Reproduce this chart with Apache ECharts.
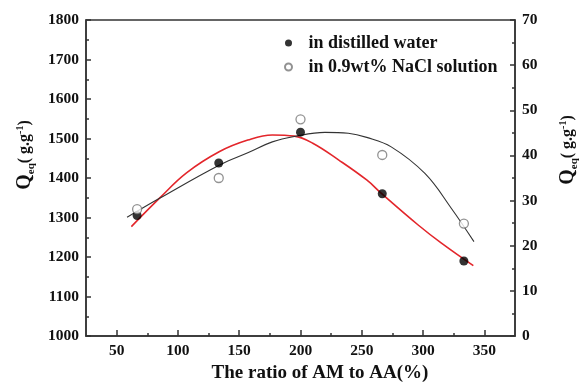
<!DOCTYPE html>
<html><head><meta charset="utf-8">
<script src="https://cdn.jsdelivr.net/npm/echarts@6/dist/echarts.min.js"></script>
<style>html,body{margin:0;padding:0;background:#fff}#c{width:588px;height:390px}</style>
</head><body><div id="c"></div>
<script>
var ratios = [66.7, 133.3, 200, 266.7, 333.3];
var waterQ = [1305, 1438, 1516, 1360, 1190];
var salineQ = [28.1, 35.0, 48.0, 40.1, 24.9];
var waterFitX = [62, 85, 107, 134, 157, 177, 195, 210, 231, 254, 266, 296, 315, 341];
var waterFitY = [1277, 1349, 1413, 1467, 1496, 1509, 1506, 1488, 1446, 1395, 1361, 1281, 1235, 1178];
var salineFitX = [58.5, 85, 134, 157, 177, 195, 220, 239, 254, 274, 301.5, 323, 341.5];
var salineFitY = [26.3, 30.5, 37.9, 40.6, 43.0, 44.2, 45.1, 44.9, 44.0, 41.9, 36.0, 28.3, 20.9];
var xMajor = [50, 100, 150, 200, 250, 300, 350];
var xMinor = [75, 125, 175, 225, 275, 325];
var legendNames = ['in distilled water', 'in 0.9wt% NaCl solution'];

function pairs(xs, ys) { return xs.map(function (x, i) { return [x, ys[i]]; }); }

var FONT = '"Liberation Serif","Times New Roman",serif';
var lab = { fontFamily: FONT, fontWeight: 'bold', fontSize: 15.5, color: '#111', formatter: function (v) { return String(v); } };
var axisLineStyle = { color: '#333', width: 1.5 };
var titleRich = {
  q: { fontFamily: FONT, fontWeight: 'bold', fontSize: 20, color: '#111' },
  s: { fontFamily: FONT, fontWeight: 'bold', fontSize: 11, color: '#111', verticalAlign: 'bottom', padding: [0, 0, -2, 0] },
  p: { fontFamily: FONT, fontWeight: 'bold', fontSize: 16, color: '#111' },
  u: { fontFamily: FONT, fontWeight: 'bold', fontSize: 10, color: '#111', verticalAlign: 'top' }
};
var titleText = '{q|Q}{s|eq}{p|( g.g}{u|-1}{p|)}';

var chart = echarts.init(document.getElementById('c'));
chart.setOption({
  animation: false,
  grid: { left: 86, right: 71, top: 20, bottom: 54, show: true, borderColor: '#333', borderWidth: 1.5 },
  legend: {
    orient: 'vertical', left: 279, top: 29, itemWidth: 30, itemHeight: 7, itemGap: 6,
    textStyle: { fontFamily: FONT, fontWeight: 'bold', fontSize: 18, color: '#111', lineHeight: 18 },
    data: legendNames
  },
  xAxis: [{
    type: 'value', min: 25, max: 375, position: 'bottom',
    name: 'The ratio of AM to AA(%)', nameLocation: 'middle', nameGap: 27,
    nameTextStyle: { fontFamily: FONT, fontWeight: 'bold', fontSize: 19, color: '#111', padding: [0, 0, 0, 39] },
    axisLine: { lineStyle: axisLineStyle },
    axisTick: { inside: true, length: 6, lineStyle: axisLineStyle, customValues: xMajor },
    axisLabel: Object.assign({ margin: 7, customValues: xMajor }, lab),
    splitLine: { show: false }
  }, {
    type: 'value', min: 25, max: 375, position: 'bottom',
    axisLine: { show: false },
    axisTick: { inside: true, length: 3, lineStyle: axisLineStyle, customValues: xMinor },
    axisLabel: { show: false },
    splitLine: { show: false }
  }],
  yAxis: [{
    type: 'value', min: 1000, max: 1800, interval: 100, position: 'left',
    name: titleText, nameLocation: 'middle', nameGap: 42, nameRotate: 90,
    nameTextStyle: { rich: titleRich, padding: [0, 0, 0, 46] },
    axisLine: { show: true, lineStyle: axisLineStyle },
    axisTick: { inside: true, length: 5, lineStyle: axisLineStyle },
    minorTick: { show: true, splitNumber: 2, length: 3, lineStyle: axisLineStyle },
    axisLabel: Object.assign({ margin: 7 }, lab),
    splitLine: { show: false }
  }, {
    type: 'value', min: 0, max: 70, interval: 10, position: 'right',
    name: titleText, nameLocation: 'middle', nameGap: 43, nameRotate: 90,
    nameTextStyle: { rich: titleRich, padding: [0, 0, 0, 56] },
    axisLine: { show: true, lineStyle: axisLineStyle },
    axisTick: { inside: true, length: 5, lineStyle: axisLineStyle },
    minorTick: { show: true, splitNumber: 2, length: 3, lineStyle: axisLineStyle },
    axisLabel: Object.assign({ margin: 7 }, lab),
    splitLine: { show: false }
  }],
  series: [{
    name: 'water fit', type: 'line', yAxisIndex: 0, smooth: 0.4, symbol: 'none',
    lineStyle: { color: '#e3262b', width: 1.6 }, z: 2,
    data: pairs(waterFitX, waterFitY)
  }, {
    name: 'saline fit', type: 'line', yAxisIndex: 1, smooth: 0.4, symbol: 'none',
    lineStyle: { color: '#333', width: 1.1 }, z: 2,
    data: pairs(salineFitX, salineFitY)
  }, {
    name: legendNames[0], type: 'scatter', yAxisIndex: 0, symbol: 'circle', symbolSize: 9,
    itemStyle: { color: '#000' }, z: 4,
    data: pairs(ratios, waterQ)
  }, {
    name: legendNames[1], type: 'scatter', yAxisIndex: 1, symbol: 'circle', symbolSize: 9,
    itemStyle: { color: '#fff', borderColor: '#777', borderWidth: 1.3 }, z: 4,
    data: pairs(ratios, salineQ)
  }]
});
</script></body></html>
